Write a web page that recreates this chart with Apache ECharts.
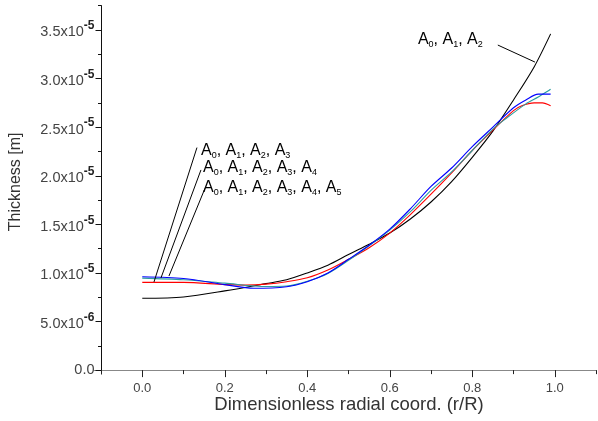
<!DOCTYPE html>
<html><head><meta charset="utf-8">
<script src="https://cdn.jsdelivr.net/npm/echarts@6/dist/echarts.min.js"></script>
<style>html,body{margin:0;padding:0;background:#fff}#c{width:598px;height:421px}</style>
</head><body><div id="c"></div>
<script>
// ---- data ----
const curveA012 = [[0,7.39e-6],[0.1,7.53e-6],[0.2,8.15e-6],[0.3,8.9e-6],[0.35,9.3e-6],[0.4,1.0e-5],[0.45,1.08e-5],[0.5,1.19e-5],[0.55,1.295e-5],[0.6,1.41e-5],[0.65,1.555e-5],[0.7,1.73e-5],[0.75,1.94e-5],[0.8,2.19e-5],[0.85,2.46e-5],[0.9,2.78e-5],[0.95,3.12e-5],[0.99,3.46e-5]];
const curveA0123 = [[0,9.03e-6],[0.1,9.03e-6],[0.2,8.8e-6],[0.25,8.75e-6],[0.3,8.85e-6],[0.35,9.1e-6],[0.4,9.5e-6],[0.45,1.03e-5],[0.5,1.14e-5],[0.55,1.26e-5],[0.6,1.41e-5],[0.65,1.6e-5],[0.7,1.81e-5],[0.75,2.03e-5],[0.8,2.26e-5],[0.85,2.47e-5],[0.9,2.67e-5],[0.92,2.72e-5],[0.95,2.75e-5],[0.97,2.75e-5],[0.99,2.72e-5]];
const curveA01234 = [[0,9.47e-6],[0.1,9.3e-6],[0.2,8.95e-6],[0.3,8.6e-6],[0.35,8.65e-6],[0.4,9.15e-6],[0.45,9.95e-6],[0.5,1.13e-5],[0.55,1.28e-5],[0.6,1.44e-5],[0.65,1.63e-5],[0.7,1.85e-5],[0.75,2.04e-5],[0.8,2.26e-5],[0.85,2.48e-5],[0.876,2.57e-5],[0.93,2.74e-5],[0.96,2.81e-5],[0.99,2.89e-5]];
const curveA012345 = [[0,9.61e-6],[0.1,9.42e-6],[0.2,8.8e-6],[0.27,8.42e-6],[0.35,8.58e-6],[0.4,9.1e-6],[0.45,1.0e-5],[0.5,1.14e-5],[0.55,1.285e-5],[0.6,1.45e-5],[0.65,1.66e-5],[0.7,1.89e-5],[0.75,2.08e-5],[0.8,2.3e-5],[0.85,2.5e-5],[0.9,2.7e-5],[0.93,2.78e-5],[0.96,2.84e-5],[0.99,2.84e-5]];

const yTicks = [0, 5e-6, 1.0e-5, 1.5e-5, 2.0e-5, 2.5e-5, 3.0e-5, 3.5e-5];
const yTickMantissa = ['0.0','5.0','1.0','1.5','2.0','2.5','3.0','3.5'];
const yTickExponent = ['', '-6', '-5', '-5', '-5', '-5', '-5', '-5'];
const yMinorTicks = [2.5e-6, 7.5e-6, 1.25e-5, 1.75e-5, 2.25e-5, 2.75e-5, 3.25e-5, 3.75e-5];
const xTicks = [0, 0.2, 0.4, 0.6, 0.8, 1.0];
const xTickLabels = ['0.0','0.2','0.4','0.6','0.8','1.0'];
const xMinorTicks = [-0.1, 0.1, 0.3, 0.5, 0.7, 0.9, 1.1];

const xName = 'Dimensionless radial coord. (r/R)';
const yName = 'Thickness [m]';

// annotation labels (subscript indices) and their anchors (data coords)
const labelIndices = [['0','1','2'], ['0','1','2','3'], ['0','1','2','3','4'], ['0','1','2','3','4','5']];
const labelAnchors = [[0.6683, 3.489e-5], [0.1423, 2.35e-5], [0.1472, 2.175e-5], [0.1472, 1.97e-5]];
const pointerLines = [
  [[0.862, 3.345e-5], [0.952, 3.17e-5]],
  [[0.1326, 2.29e-5], [0.0284, 9.07e-6]],
  [[0.1423, 2.06e-5], [0.0453, 9.48e-6]],
  [[0.152, 1.87e-5], [0.0647, 9.68e-6]]
];

const FONT = "'Liberation Sans', Arial, sans-serif";
const chart = echarts.init(document.getElementById('c'), null, {renderer: 'canvas'});

function yFmt(v) {
  const i = yTicks.findIndex(t => Math.abs(t - v) < 1e-10);
  if (i < 0) return '';
  if (!yTickExponent[i]) return '{z|' + yTickMantissa[i] + '}';
  return '{m|' + yTickMantissa[i] + 'x10}{e|' + yTickExponent[i] + '}';
}
function xFmt(v) {
  const i = xTicks.findIndex(t => Math.abs(t - v) < 1e-9);
  return i < 0 ? '' : xTickLabels[i];
}

const XMIN = -0.117, XMAX = 1.1, YMIN = -4e-7, YMAX = 3.75e-5;

const lineSeries = (data, color, withMarks) => {
  const s = {
    type: 'line', data, xAxisIndex: 0, yAxisIndex: 0,
    showSymbol: false, symbol: 'none', smooth: 0.3,
    lineStyle: {color, width: 1.1}, itemStyle: {color}, animation: false, silent: true
  };
  if (withMarks) {
    s.markLine = {
      silent: true, symbol: ['none','none'], animation: false,
      lineStyle: {color: '#000', width: 1, type: 'solid'},
      label: {show: false},
      data: pointerLines.map(l => [{coord: l[0]}, {coord: l[1]}])
    };
  }
  return s;
};

chart.setOption({
  backgroundColor: '#fff',
  animation: false,
  grid: {left: 94, right: 2, top: 5.7, bottom: 47, containLabel: false, outerBoundsMode: 'none'},
  xAxis: [{
    type: 'value', position: 'bottom', min: XMIN, max: XMAX,
    axisLine: {show: true, onZero: true, onZeroAxisIndex: 0, lineStyle: {color: '#888', width: 1}},
    axisTick: {show: true, inside: false, length: 7, customValues: xTicks, lineStyle: {color: '#222'}},
    axisLabel: {show: true, customValues: xTicks, formatter: xFmt, margin: 8, color: '#444', fontSize: 13, fontFamily: FONT},
    splitLine: {show: false},
    name: xName, nameLocation: 'middle', nameGap: 21, nameMoveOverlap: false,
    nameTextStyle: {fontSize: 18.5, color: '#333', fontFamily: FONT, padding: [0,0,0,8]}
  }, {
    type: 'value', position: 'bottom', min: XMIN, max: XMAX,
    axisLine: {show: false, onZero: true, onZeroAxisIndex: 0},
    axisTick: {show: true, length: 4, customValues: xMinorTicks, lineStyle: {color: '#222'}},
    axisLabel: {show: false}, splitLine: {show: false}
  }],
  yAxis: [{
    type: 'value', position: 'left', min: YMIN, max: YMAX, offset: -7.5,
    axisLine: {show: true, onZero: false, lineStyle: {color: '#111', width: 1}},
    axisTick: {show: true, length: 6, customValues: yTicks, lineStyle: {color: '#111'}},
    axisLabel: {show: true, customValues: yTicks, formatter: yFmt, margin: 7,
      rich: {
        z: {fontSize: 14.5, color: '#444', fontFamily: FONT},
        m: {fontSize: 14.5, color: '#444', fontFamily: FONT, padding: [5,0,0,0]},
        e: {fontSize: 12, fontWeight: 'bold', color: '#222', fontFamily: FONT, padding: [0,0,8,0]}
      }},
    splitLine: {show: false},
    name: yName, nameLocation: 'middle', nameGap: 78, nameMoveOverlap: false,
    nameTextStyle: {fontSize: 16, color: '#333', fontFamily: FONT, padding: [0,0,0,16]}
  }, {
    type: 'value', position: 'left', min: YMIN, max: YMAX, offset: -7.5,
    axisLine: {show: false, onZero: false},
    axisTick: {show: true, length: 3.5, customValues: yMinorTicks, lineStyle: {color: '#111'}},
    axisLabel: {show: false}, splitLine: {show: false}
  }],
  series: [
    lineSeries(curveA012, '#000000', true),
    lineSeries(curveA0123, '#ff0000', false),
    lineSeries(curveA01234, '#2a9d9d', false),
    lineSeries(curveA012345, '#0000ff', false)
  ]
});

const graphics = labelIndices.map((idx, k) => {
  const p = chart.convertToPixel({xAxisIndex: 0, yAxisIndex: 0}, labelAnchors[k]);
  const text = idx.map(i => '{a|A}{s|' + i + '}').join('{a|, }');
  return {
    type: 'text', x: p[0], y: p[1], silent: true,
    style: {
      text, verticalAlign: 'top', align: 'left',
      rich: {
        a: {fontSize: 16, color: '#222', fontFamily: FONT},
        s: {fontSize: 9, color: '#222', fontFamily: FONT, padding: [9,0,0,0]}
      }
    }
  };
});
chart.setOption({graphic: graphics});
</script></body></html>
